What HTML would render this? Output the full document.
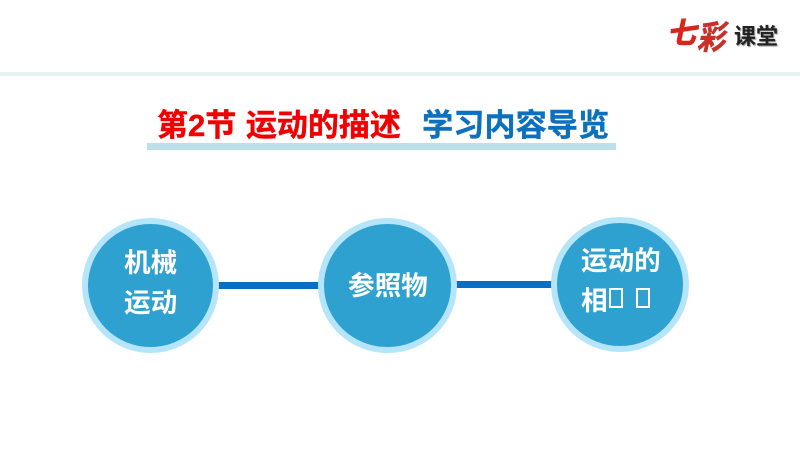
<!DOCTYPE html>
<html><head><meta charset="utf-8">
<style>
html,body{margin:0;padding:0;background:#fff}
#p{position:relative;width:800px;height:450px;overflow:hidden;background:#fff;font-family:"Liberation Sans","Noto Sans CJK SC",sans-serif}
#p div{position:absolute}
.t{white-space:nowrap;font-weight:700;line-height:1}
.c{border-radius:50%;background:#2fa1d0;border-style:solid;border-color:#b5e5fa;box-sizing:border-box}
.w{color:#fff;font-size:26.6px}
.b{border:2px solid #fff;box-sizing:border-box;width:14px;height:20px}
</style></head><body><div id="p">
<div style="left:0;top:72px;width:800px;height:4px;background:#e6f3f3"></div>

<div class="t" style="left:669px;top:20px;font-size:29px;color:#d8261c;-webkit-text-stroke:1px #d8261c;transform:skewX(-12deg)">七</div>
<div class="t" style="left:703px;top:21px;font-size:33px;color:#c9302a;-webkit-text-stroke:.7px #c9302a;transform:skewX(-12deg) scaleX(.85);transform-origin:left top">彩</div>
<div class="t" style="left:734px;top:26px;font-size:22px;color:#222;text-shadow:1px 1px 1px #999">课堂</div>

<div class="t" style="left:157px;top:110px;font-size:31px;color:#f00000;-webkit-text-stroke:.4px #f00000;word-spacing:1px">第2节 运动的描述</div>
<div class="t" style="left:422px;top:110px;font-size:31.2px;color:#0b70bd;-webkit-text-stroke:.4px #0b70bd">学习内容导览</div>
<div style="left:147px;top:143px;width:469px;height:7px;background:#bcdfe9"></div>

<div style="left:215px;top:282px;width:108px;height:7px;background:#0a6fc0"></div>
<div style="left:453px;top:281px;width:102px;height:7px;background:#0a6fc0"></div>

<div class="c" style="left:82px;top:218px;width:137px;height:135px;border-width:6px"></div>
<div class="c" style="left:318px;top:218px;width:139px;height:135px;border-width:6px"></div>
<div class="c" style="left:551px;top:217px;width:138px;height:135px;border-width:6px"></div>

<div class="t w" style="left:124px;top:250px">机械</div>
<div class="t w" style="left:124px;top:290px">运动</div>
<div class="t w" style="left:348px;top:273px">参照物</div>
<div class="t w" style="left:581px;top:248px">运动的</div>
<div class="t w" style="left:581px;top:288px">相</div>
<div class="b" style="left:609px;top:288px"></div>
<div class="b" style="left:636px;top:288px"></div>
</div></body></html>
